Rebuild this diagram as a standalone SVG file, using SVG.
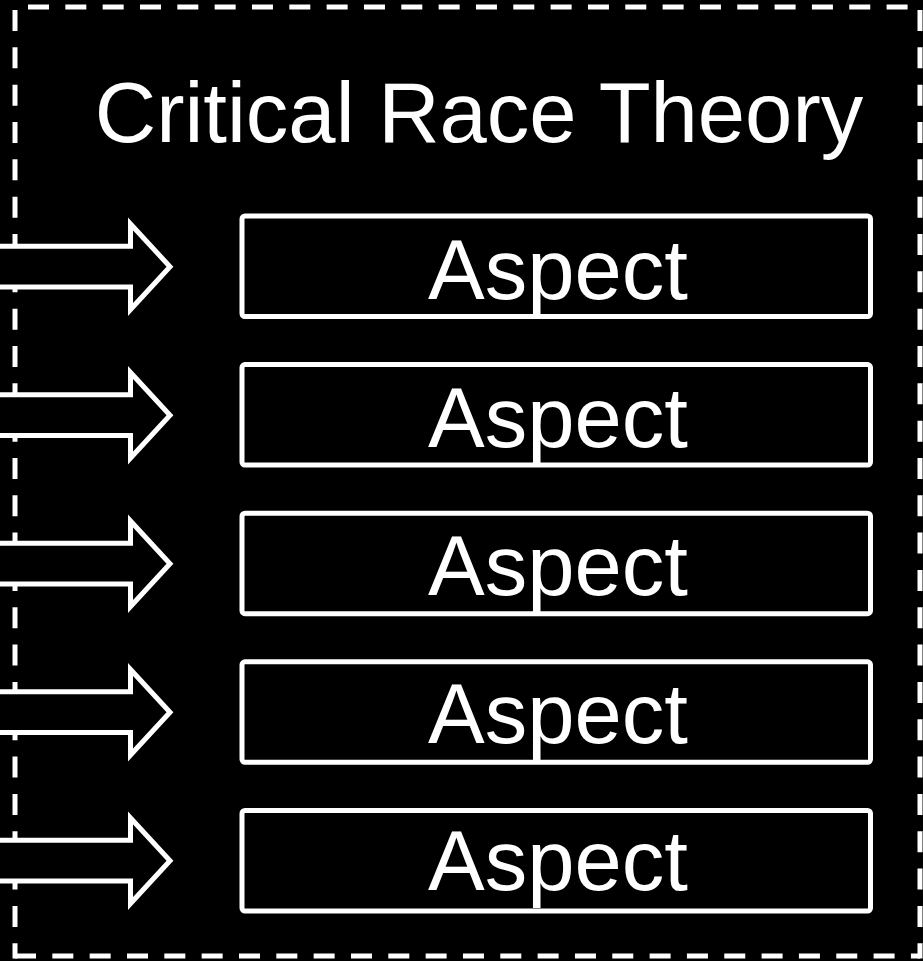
<svg xmlns="http://www.w3.org/2000/svg" width="923" height="961" viewBox="0 0 923 961">
<style>
.border{stroke:#fff;stroke-width:5;fill:none;stroke-dasharray:21 16.33}
.box rect{fill:#000;stroke:#fff;stroke-width:5}
.lbl{fill:#fff;font-family:"Liberation Sans",Arial,sans-serif;font-size:85px;text-anchor:middle}
.arrow{fill:#000;stroke:#fff;stroke-width:5;stroke-linejoin:miter}
</style>
<rect x="0" y="0" width="923" height="961" fill="#000"/>
<g id="frame">
<line class="border" x1="28" y1="7" x2="908" y2="7"/>
<line class="border" x1="15" y1="10" x2="15" y2="958.5"/>
<line class="border" x1="920" y1="10" x2="920" y2="958.5"/>
<line class="border" x1="15" y1="956" x2="920" y2="956"/>
</g>
<g id="title"><text class="lbl" x="479" y="142">Critical Race Theory</text></g>
<g id="connectors">
<path class="arrow" d="M-10,246.3 H130.5 V224 L170,266.7 L130.5,309.5 V287 H-10 Z"/>
<path class="arrow" transform="translate(0,148.5)" d="M-10,246.3 H130.5 V224 L170,266.7 L130.5,309.5 V287 H-10 Z"/>
<path class="arrow" transform="translate(0,297)" d="M-10,246.3 H130.5 V224 L170,266.7 L130.5,309.5 V287 H-10 Z"/>
<path class="arrow" transform="translate(0,445.5)" d="M-10,246.3 H130.5 V224 L170,266.7 L130.5,309.5 V287 H-10 Z"/>
<path class="arrow" transform="translate(0,594)" d="M-10,246.3 H130.5 V224 L170,266.7 L130.5,309.5 V287 H-10 Z"/>
</g>
<g id="aspect1" class="box"><rect x="242" y="216" width="628.5" height="100.5" rx="3"/><text class="lbl" x="558" y="299">Aspect</text></g>
<g id="aspect2" class="box"><rect x="242" y="364.6" width="628.5" height="100.5" rx="3"/><text class="lbl" x="558" y="447">Aspect</text></g>
<g id="aspect3" class="box"><rect x="242" y="513.2" width="628.5" height="100.5" rx="3"/><text class="lbl" x="558" y="595">Aspect</text></g>
<g id="aspect4" class="box"><rect x="242" y="661.8" width="628.5" height="100.5" rx="3"/><text class="lbl" x="558" y="742.5">Aspect</text></g>
<g id="aspect5" class="box"><rect x="242" y="810.5" width="628.5" height="100.5" rx="3"/><text class="lbl" x="558" y="890">Aspect</text></g>
</svg>
